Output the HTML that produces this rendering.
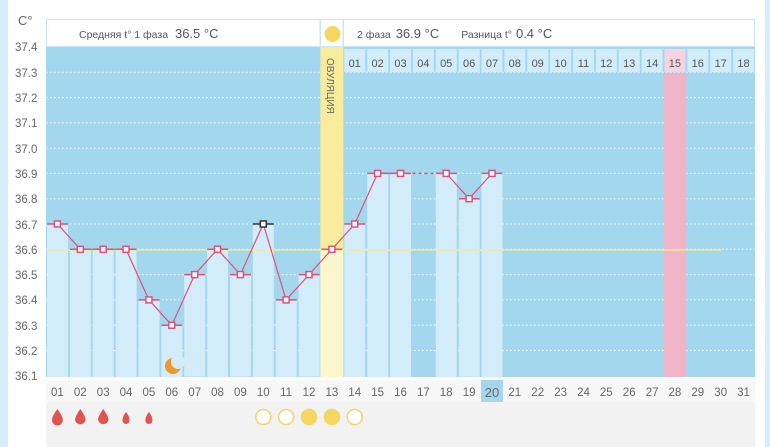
<!DOCTYPE html>
<html><head><meta charset="utf-8"><style>
html,body{margin:0;padding:0;background:#fff;width:770px;height:447px;overflow:hidden}
svg{display:block;font-family:"Liberation Sans",sans-serif}
</style></head><body>
<svg width="770" height="447" viewBox="0 0 770 447" xmlns="http://www.w3.org/2000/svg">
<rect x="0" y="0" width="8" height="447" fill="#d6eef9"/>
<rect x="765" y="0" width="5" height="447" fill="#d6eef9"/>
<rect x="46" y="380" width="709" height="67" fill="#f7f7f7"/>
<rect x="46" y="402" width="709" height="45" fill="#f2f2f2"/>
<!-- plot bg -->
<rect x="46" y="47" width="709" height="330" fill="#a3d7ee"/>
<g stroke="#fff" stroke-dasharray="1.5 2.5" stroke-width="1" opacity="0.9">
<line x1="46" x2="755" y1="72.2" y2="72.2"/><line x1="46" x2="755" y1="97.5" y2="97.5"/>
<line x1="46" x2="755" y1="122.8" y2="122.8"/><line x1="46" x2="755" y1="148.1" y2="148.1"/>
<line x1="46" x2="755" y1="173.4" y2="173.4"/><line x1="46" x2="755" y1="198.7" y2="198.7"/>
<line x1="46" x2="755" y1="224" y2="224"/><line x1="46" x2="755" y1="249.3" y2="249.3"/>
<line x1="46" x2="755" y1="274.6" y2="274.6"/><line x1="46" x2="755" y1="299.9" y2="299.9"/>
<line x1="46" x2="755" y1="325.2" y2="325.2"/><line x1="46" x2="755" y1="350.5" y2="350.5"/>
</g>
<g fill="#d2ecf9">
<rect x="47" y="224" width="21" height="153"/>
<rect x="69.9" y="249.3" width="21" height="128"/>
<rect x="92.7" y="249.3" width="21" height="128"/>
<rect x="115.6" y="249.3" width="21" height="128"/>
<rect x="138.5" y="299.9" width="21" height="77"/>
<rect x="161.4" y="325.2" width="21" height="52"/>
<rect x="184.2" y="274.6" width="21" height="102"/>
<rect x="207.1" y="249.3" width="21" height="128"/>
<rect x="230" y="274.6" width="21" height="102"/>
<rect x="252.8" y="224" width="21" height="153"/>
<rect x="275.7" y="299.9" width="21" height="77"/>
<rect x="298.6" y="274.6" width="21" height="102"/>
<rect x="344.3" y="224" width="21" height="153"/>
<rect x="367.2" y="173.4" width="21" height="204"/>
<rect x="390" y="173.4" width="21" height="204"/>
<rect x="435.8" y="173.4" width="21" height="204"/>
<rect x="458.7" y="198.7" width="21" height="178"/>
<rect x="481.5" y="173.4" width="21" height="204"/>
</g>
<rect x="320.4" y="47" width="22.9" height="330" fill="#f8ec9c"/>
<rect x="320.4" y="249.3" width="22.9" height="128" fill="#fcf6cf"/>
<text transform="translate(327,58) rotate(90)" font-size="10" fill="#666">ОВУЛЯЦИЯ</text>
<rect x="663.5" y="73" width="22.9" height="304" fill="#efb4c6"/>
<!-- top day row -->
<g fill="#d2ecf9">
<rect x="344.3" y="49" width="21" height="23"/><rect x="367.2" y="49" width="21" height="23"/><rect x="390" y="49" width="21" height="23"/><rect x="412.9" y="49" width="21" height="23"/><rect x="435.8" y="49" width="21" height="23"/><rect x="458.7" y="49" width="21" height="23"/><rect x="481.5" y="49" width="21" height="23"/><rect x="504.4" y="49" width="21" height="23"/><rect x="527.3" y="49" width="21" height="23"/><rect x="550.1" y="49" width="21" height="23"/><rect x="573" y="49" width="21" height="23"/><rect x="595.9" y="49" width="21" height="23"/><rect x="618.7" y="49" width="21" height="23"/><rect x="641.6" y="49" width="21" height="23"/><rect x="664.5" y="49" width="21" height="23" fill="#f6d3df"/><rect x="687.4" y="49" width="21" height="23"/><rect x="710.2" y="49" width="21" height="23"/><rect x="733.1" y="49" width="21" height="23"/>
</g>
<g font-size="11" fill="#555" text-anchor="middle">
<text x="354.7" y="67">01</text><text x="377.6" y="67">02</text><text x="400.5" y="67">03</text><text x="423.4" y="67">04</text><text x="446.2" y="67">05</text><text x="469.1" y="67">06</text><text x="492" y="67">07</text><text x="514.8" y="67">08</text><text x="537.7" y="67">09</text><text x="560.6" y="67">10</text><text x="583.5" y="67">11</text><text x="606.3" y="67">12</text><text x="629.2" y="67">13</text><text x="652.1" y="67">14</text><text x="674.9" y="67">15</text><text x="697.8" y="67">16</text><text x="720.7" y="67">17</text><text x="743.5" y="67">18</text>
</g>
<!-- header -->
<rect x="46.5" y="19.5" width="273.5" height="27" fill="#fff" stroke="#cbe6f4"/>
<rect x="320.5" y="19.5" width="22.5" height="27" fill="#fff" stroke="#cbe6f4"/>
<rect x="343.5" y="19.5" width="411" height="27" fill="#fff" stroke="#cbe6f4"/>
<circle cx="332.5" cy="34" r="8" fill="#f5d760"/>
<text x="79" y="38" font-size="10.5" fill="#555">Средняя t° 1 фаза <tspan font-size="13" dx="4">36.5 °C</tspan></text>
<text x="357" y="38" font-size="10.5" fill="#555">2 фаза <tspan font-size="13" dx="2">36.9 °C</tspan><tspan dx="22">Разница t°</tspan><tspan font-size="13" dx="4">0.4 °C</tspan></text>
<!-- coverline -->
<line x1="46" x2="721" y1="250" y2="250" stroke="#f3ea9a" stroke-width="1.5"/>
<!-- marker bars -->
<g stroke="#e0507a" stroke-width="1.5">
<line x1="47" x2="68" y1="224" y2="224"/><line x1="69.9" x2="90.9" y1="249.3" y2="249.3"/><line x1="92.7" x2="113.7" y1="249.3" y2="249.3"/><line x1="115.6" x2="136.6" y1="249.3" y2="249.3"/><line x1="138.5" x2="159.5" y1="299.9" y2="299.9"/><line x1="161.4" x2="182.4" y1="325.2" y2="325.2"/><line x1="184.2" x2="205.2" y1="274.6" y2="274.6"/><line x1="207.1" x2="228.1" y1="249.3" y2="249.3"/><line x1="230" x2="251" y1="274.6" y2="274.6"/><line x1="275.7" x2="296.7" y1="299.9" y2="299.9"/><line x1="298.6" x2="319.6" y1="274.6" y2="274.6"/><line x1="321.4" x2="342.4" y1="249.3" y2="249.3"/><line x1="344.3" x2="365.3" y1="224" y2="224"/><line x1="367.2" x2="388.2" y1="173.4" y2="173.4"/><line x1="390" x2="411" y1="173.4" y2="173.4"/><line x1="435.8" x2="456.8" y1="173.4" y2="173.4"/><line x1="458.7" x2="479.7" y1="198.7" y2="198.7"/><line x1="481.5" x2="502.5" y1="173.4" y2="173.4"/>
</g>
<line x1="252.8" x2="273.8" y1="224" y2="224" stroke="#333" stroke-width="1.5"/>
<polyline fill="none" stroke="#e0507a" stroke-width="1.2" points="57.4,224 80.3,249.3 103.2,249.3 126,249.3 148.9,299.9 171.8,325.2 194.7,274.6 217.5,249.3 240.4,274.6 263.3,224 286.1,299.9 309,274.6 331.9,249.3 354.7,224 377.6,173.4 400.5,173.4"/>
<line x1="400.5" x2="446.2" y1="173.4" y2="173.4" stroke="#e0507a" stroke-width="1.5" stroke-dasharray="3 3"/>
<polyline fill="none" stroke="#e0507a" stroke-width="1.2" points="446.2,173.4 469.1,198.7 492,173.4"/>
<g fill="#fff" stroke="#e0507a" stroke-width="1.5">
<rect x="54.4" y="221" width="6" height="6"/><rect x="77.3" y="246.3" width="6" height="6"/><rect x="100.2" y="246.3" width="6" height="6"/><rect x="123" y="246.3" width="6" height="6"/><rect x="145.9" y="296.9" width="6" height="6"/><rect x="168.8" y="322.2" width="6" height="6"/><rect x="191.7" y="271.6" width="6" height="6"/><rect x="214.5" y="246.3" width="6" height="6"/><rect x="237.4" y="271.6" width="6" height="6"/><rect x="283.1" y="296.9" width="6" height="6"/><rect x="306" y="271.6" width="6" height="6"/><rect x="328.9" y="246.3" width="6" height="6"/><rect x="351.7" y="221" width="6" height="6"/><rect x="374.6" y="170.4" width="6" height="6"/><rect x="397.5" y="170.4" width="6" height="6"/><rect x="443.2" y="170.4" width="6" height="6"/><rect x="466.1" y="195.7" width="6" height="6"/><rect x="489" y="170.4" width="6" height="6"/>
</g>
<rect x="260.3" y="221" width="6" height="6" fill="#fff" stroke="#333" stroke-width="1.5"/>
<!-- moon -->
<circle cx="173" cy="366" r="8" fill="#ea9a2c"/><circle cx="178" cy="362" r="7" fill="#d2ecf9"/>
<!-- y labels -->
<text x="18" y="25" font-size="13" fill="#666">C°</text>
<g font-size="11.5" fill="#666">
<text x="15" y="51">37.4</text><text x="15" y="77">37.3</text><text x="15" y="102">37.2</text><text x="15" y="127">37.1</text><text x="15" y="153">37.0</text><text x="15" y="178">36.9</text><text x="15" y="203">36.8</text><text x="15" y="229">36.7</text><text x="15" y="254">36.6</text><text x="15" y="279">36.5</text><text x="15" y="304">36.4</text><text x="15" y="330">36.3</text><text x="15" y="355">36.2</text><text x="15" y="380">36.1</text>
</g>
<rect x="481" y="380" width="22" height="22" fill="#a3d7ee"/>
<g font-size="11.5" fill="#666" text-anchor="middle">
<text x="57.4" y="396">01</text><text x="80.3" y="396">02</text><text x="103.2" y="396">03</text><text x="126" y="396">04</text><text x="148.9" y="396">05</text><text x="171.8" y="396">06</text><text x="194.7" y="396">07</text><text x="217.5" y="396">08</text><text x="240.4" y="396">09</text><text x="263.3" y="396">10</text><text x="286.1" y="396">11</text><text x="309" y="396">12</text><text x="331.9" y="396">13</text><text x="354.7" y="396">14</text><text x="377.6" y="396">15</text><text x="400.5" y="396">16</text><text x="423.4" y="396">17</text><text x="446.2" y="396">18</text><text x="469.1" y="396">19</text><text x="492" y="397" font-size="13">20</text><text x="514.8" y="396">21</text><text x="537.7" y="396">22</text><text x="560.6" y="396">23</text><text x="583.5" y="396">24</text><text x="606.3" y="396">25</text><text x="629.2" y="396">26</text><text x="652.1" y="396">27</text><text x="674.9" y="396">28</text><text x="697.8" y="396">29</text><text x="720.7" y="396">30</text><text x="743.5" y="396">31</text>
</g>
<!-- drops -->
<g fill="#e05550">
<path d="M57.4,409 C53,415 52,418 52,420 A5.4,5.4 0 0 0 62.8,420 C62.8,418 61.8,415 57.4,409Z"/>
<path d="M80.3,409 C76,415 75,418 75,420 A5.4,5.4 0 0 0 85.6,420 C85.6,418 84.6,415 80.3,409Z"/>
<path d="M103.2,409 C99,415 98,418 98,420 A5.4,5.4 0 0 0 108.5,420 C108.5,418 107.5,415 103.2,409Z"/>
<path d="M126,412 C123,416 122.5,418 122.5,420.5 A3.5,3.5 0 0 0 129.5,420.5 C129.5,418 129,416 126,412Z"/>
<path d="M148.9,412 C146,416 145.4,418 145.4,420.5 A3.5,3.5 0 0 0 152.4,420.5 C152.4,418 152,416 148.9,412Z"/>
</g>
<g stroke="#f3d56a" stroke-width="1.5">
<circle cx="263.3" cy="417" r="7.5" fill="#fff"/><circle cx="286.1" cy="417" r="7.5" fill="#fff"/><circle cx="309" cy="417" r="7.5" fill="#f5d760"/><circle cx="331.9" cy="417" r="7.5" fill="#f5d760"/><circle cx="354.7" cy="417" r="7.5" fill="#fff"/>
</g>
</svg>
</body></html>
